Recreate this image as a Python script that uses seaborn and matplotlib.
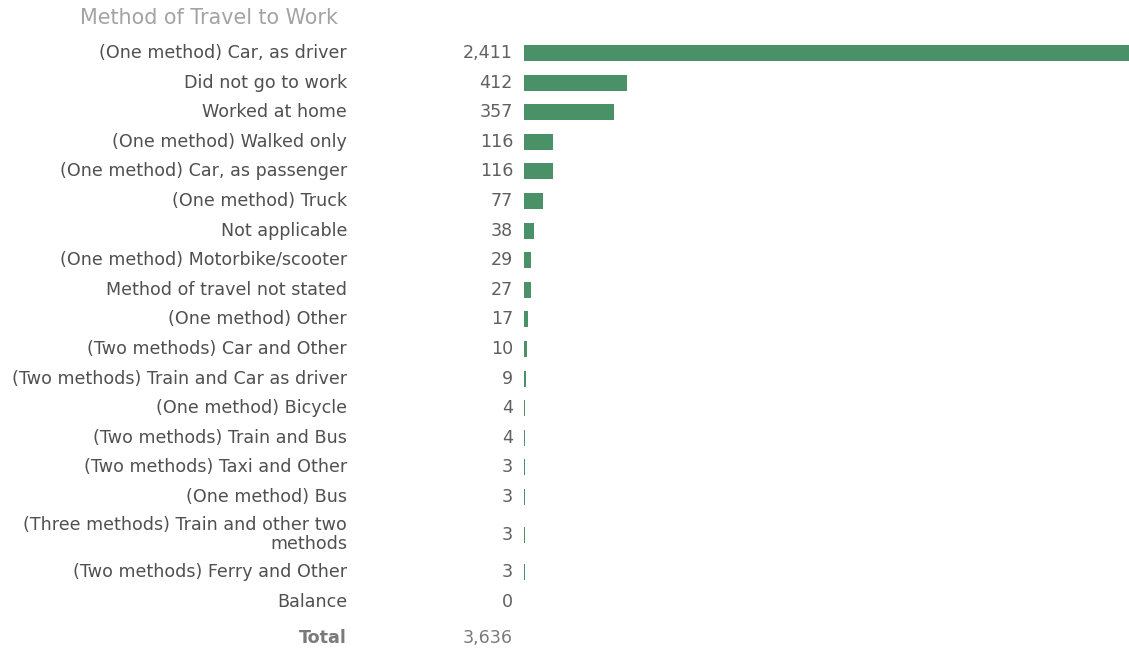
import numpy as np
import matplotlib
matplotlib.use("Agg")
import matplotlib.pyplot as plt
import matplotlib.transforms as mtransforms
import seaborn as sns

categories = [
    "(One method) Car, as driver",
    "Did not go to work",
    "Worked at home",
    "(One method) Walked only",
    "(One method) Car, as passenger",
    "(One method) Truck",
    "Not applicable",
    "(One method) Motorbike/scooter",
    "Method of travel not stated",
    "(One method) Other",
    "(Two methods) Car and Other",
    "(Two methods) Train and Car as driver",
    "(One method) Bicycle",
    "(Two methods) Train and Bus",
    "(Two methods) Taxi and Other",
    "(One method) Bus",
    "(Three methods) Train and other two\nmethods",
    "(Two methods) Ferry and Other",
    "Balance",
]
values = [2411, 412, 357, 116, 116, 77, 38, 29, 27, 17, 10, 9, 4, 4, 3, 3, 3, 3, 0]
total_label = "Total"
total_value = 3636
title = "Method of Travel to Work"

sns.set_theme(style="white")
plt.rcParams["font.family"] = ["DejaVu Sans"]

W, H = 1129, 650
fig = plt.figure(figsize=(W / 100, H / 100), dpi=100)
fig.patch.set_facecolor("white")

# layout: row heights depend on number of label lines
nlines = np.array([c.count("\n") + 1 for c in categories])
heights = 1 + 0.55 * (nlines - 1)
centers = np.cumsum(heights) - heights / 2
total_center = centers[-1] + 1.22

row_px = 29.6
first_px = 53
top_c = 0.5 - first_px / row_px
bot_c = 0.5 + (H - first_px) / row_px

ax = fig.add_axes([524 / W, 0, (W - 524) / W, 1])
sns.barplot(x=values, y=centers, orient="h", native_scale=True, width=0.54,
            color="#4a9168", saturation=1, ax=ax, linewidth=0)
ax.set_xlim(0, max(values))
ax.set_ylim(bot_c, top_c)
ax.axis("off")

fs = 12.6
trans = mtransforms.blended_transform_factory(fig.transFigure, ax.transData)
label_x = 347 / W
value_x = 513 / W
for cat, val, c in zip(categories, values, centers):
    fig.text(label_x, c, cat, transform=trans, ha="right", va="center",
             multialignment="right", fontsize=fs, color="#505050", linespacing=1.05)
    fig.text(value_x, c, f"{val:,}", transform=trans, ha="right", va="center",
             fontsize=fs, color="#606060")

fig.text(label_x, total_center, total_label, transform=trans, ha="right", va="center",
         fontsize=fs, color="#7a7a7a", fontweight="bold")
fig.text(value_x, total_center, f"{total_value:,}", transform=trans, ha="right",
         va="center", fontsize=fs, color="#7a7a7a")

fig.text(80 / W, 1 - 18 / H, title, ha="left", va="center", fontsize=14.9,
         color="#a3a3a3")

fig.savefig("out.png", dpi=100, facecolor="white")
